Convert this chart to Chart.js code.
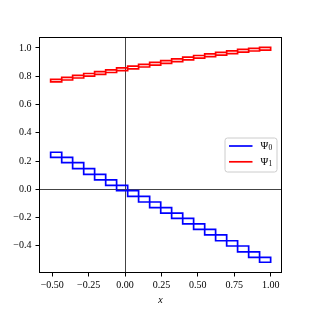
<!DOCTYPE html>
<html><head><meta charset="utf-8">
<script src="https://cdn.jsdelivr.net/npm/chart.js@4.4.0/dist/chart.umd.min.js"></script>
<style>html,body{margin:0;padding:0;background:#fff;}canvas{display:block;}</style>
</head><body>
<canvas id="c" width="313" height="313"></canvas>
<script>
// Box edges along x (20 boxes)
const xEdges = [-0.511,-0.435,-0.360,-0.284,-0.209,-0.133,-0.058,0.018,0.093,0.169,0.245,0.320,0.396,0.471,0.547,0.622,0.698,0.773,0.849,0.924,1.000];
// Psi_0 boxes: upper / lower value of each box
const psi0Hi = [0.262,0.226,0.188,0.146,0.106,0.066,0.028,-0.010,-0.050,-0.090,-0.130,-0.168,-0.205,-0.245,-0.283,-0.323,-0.364,-0.401,-0.443,-0.481];
const psi0Lo = [0.226,0.188,0.146,0.106,0.066,0.028,-0.010,-0.050,-0.090,-0.130,-0.168,-0.205,-0.245,-0.283,-0.323,-0.364,-0.401,-0.443,-0.481,-0.516];
// Psi_1 boxes
const psi1Hi = [0.778,0.792,0.806,0.819,0.832,0.845,0.858,0.871,0.884,0.897,0.910,0.922,0.934,0.946,0.957,0.968,0.979,0.989,0.997,1.003];
const psi1Lo = [0.759,0.773,0.787,0.800,0.813,0.826,0.839,0.852,0.865,0.878,0.891,0.903,0.915,0.927,0.938,0.949,0.960,0.970,0.978,0.984];
const xTicks = [-0.5,-0.25,0,0.25,0.5,0.75,1.0];
const yTicks = [-0.4,-0.2,0,0.2,0.4,0.6,0.8,1.0];
const seriesLabels = ['Ψ₀','Ψ₁'];
const seriesColors = ['#0000ff','#ff0000'];

const FONT = '"Liberation Serif", "DejaVu Serif", serif';
function fmt(v, d){ const s = Math.abs(v) < 1e-9 ? (0).toFixed(d) : v.toFixed(d); return s.replace('-', '\u2212'); }
function boxes(lo, hi){
  const pts = [];
  for (let i = 0; i < lo.length; i++) {
    const a = xEdges[i], b = xEdges[i+1];
    pts.push({x:a,y:hi[i]},{x:b,y:hi[i]},{x:b,y:lo[i]},{x:a,y:lo[i]},{x:a,y:hi[i]},{x:a,y:null});
  }
  return pts;
}
const gridColor = c => (c.tick && Math.abs(c.tick.value) < 1e-9) ? '#444444' : 'rgba(0,0,0,0)';

const framePlugin = {
  id: 'frame',
  afterDraw(chart){
    const {ctx, chartArea: a} = chart;
    ctx.save();
    ctx.strokeStyle = '#000'; ctx.lineWidth = 1;
    ctx.strokeRect(Math.round(a.left)+0.5, Math.round(a.top)+0.5, Math.round(a.right-a.left)-1, Math.round(a.bottom-a.top)-1);
    // legend
    const w = 52, h = 34;
    const lx = a.right - 5 - w, ly = (a.top + a.bottom)/2 - h/2;
    const r = 2.5;
    ctx.beginPath();
    ctx.moveTo(lx+r, ly); ctx.lineTo(lx+w-r, ly); ctx.quadraticCurveTo(lx+w, ly, lx+w, ly+r);
    ctx.lineTo(lx+w, ly+h-r); ctx.quadraticCurveTo(lx+w, ly+h, lx+w-r, ly+h);
    ctx.lineTo(lx+r, ly+h); ctx.quadraticCurveTo(lx, ly+h, lx, ly+h-r);
    ctx.lineTo(lx, ly+r); ctx.quadraticCurveTo(lx, ly, lx+r, ly);
    ctx.closePath();
    ctx.fillStyle = 'rgba(255,255,255,0.8)'; ctx.fill();
    ctx.strokeStyle = '#cccccc'; ctx.lineWidth = 1; ctx.stroke();
    chart.data.datasets.forEach((ds, i) => {
      const y = ly + 8 + i*15.8;
      ctx.strokeStyle = ds.borderColor; ctx.lineWidth = 1.7;
      ctx.beginPath(); ctx.moveTo(lx+4, y); ctx.lineTo(lx+27.5, y); ctx.stroke();
      ctx.fillStyle = '#000'; ctx.textBaseline = 'middle'; ctx.textAlign = 'left';
      ctx.font = '10.5px ' + FONT;
      const base = ds.label.charAt(0), sub = String(i);
      ctx.fillText(base, lx+35.5, y);
      const bw = ctx.measureText(base).width;
      ctx.font = '7.5px ' + FONT;
      ctx.fillText(sub, lx+35.5+bw+0.3, y+2.5);
    });
    ctx.restore();
  }
};

new Chart(document.getElementById('c'), {
  type: 'line',
  data: {
    datasets: [
      {label: seriesLabels[0], data: boxes(psi0Lo, psi0Hi), borderColor: seriesColors[0], borderWidth: 1.7},
      {label: seriesLabels[1], data: boxes(psi1Lo, psi1Hi), borderColor: seriesColors[1], borderWidth: 1.7}
    ]
  },
  options: {
    responsive: false, animation: false,
    elements: {point: {radius: 0, hoverRadius: 0}, line: {tension: 0, fill: false, borderCapStyle: 'square', borderJoinStyle: 'miter'}},
    spanGaps: false,
    layout: {padding: {top: 37, right: 31, bottom: 0, left: 0}},
    plugins: {legend: {display: false}, tooltip: {enabled: false}},
    events: [],
    scales: {
      x: {
        type: 'linear', min: -0.591, max: 1.078,
        afterBuildTicks: s => { s.ticks = xTicks.map(v => ({value: v})); },
        afterFit: s => { s.height = 40; },
        ticks: {callback: v => fmt(v, 2), font: {family: FONT, size: 10}, color: '#000', padding: 3, maxRotation: 0, autoSkip: false},
        grid: {color: gridColor, lineWidth: 1, tickColor: '#000', tickLength: 3.5, tickWidth: 1},
        border: {display: false},
        title: {display: true, text: 'x', color: '#000', font: {family: FONT, size: 10, style: 'italic'}, padding: {top: 0, bottom: 7}}
      },
      y: {
        type: 'linear', min: -0.592, max: 1.077,
        afterBuildTicks: s => { s.ticks = yTicks.map(v => ({value: v})); },
        afterFit: s => { s.width = 39; },
        ticks: {callback: v => fmt(v, 1), font: {family: FONT, size: 10}, color: '#000', padding: 4, autoSkip: false},
        grid: {color: gridColor, lineWidth: 1, tickColor: '#000', tickLength: 3.5, tickWidth: 1},
        border: {display: false}
      }
    }
  },
  plugins: [framePlugin]
});
</script>
</body></html>
